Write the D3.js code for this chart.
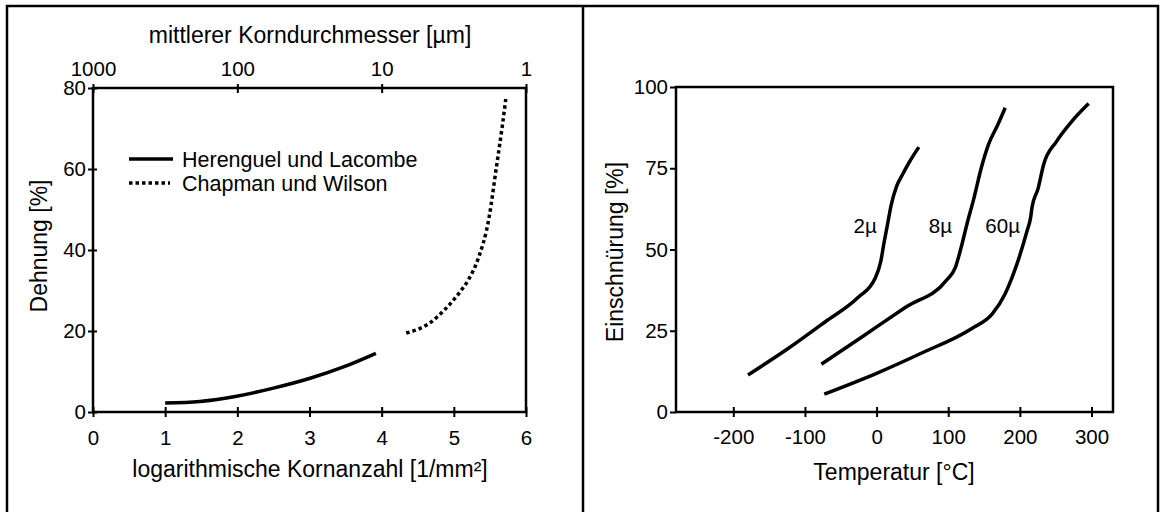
<!DOCTYPE html>
<html>
<head>
<meta charset="utf-8">
<script src="https://cdn.jsdelivr.net/npm/d3@7"></script>
<style>
  body { margin: 0; background: #fff; }
  svg text { font-family: "Liberation Sans", Arial, sans-serif; fill: #000; }
</style>
</head>
<body>
<div id="chart"></div>
<script>
// Left panel: Dehnung over logarithmische Kornanzahl
const leftXTicks = [0, 1, 2, 3, 4, 5, 6];
const leftYTicks = [0, 20, 40, 60, 80];
const topTicks = [1000, 100, 10, 1];
const herenguelX = [1.0, 1.48, 1.99, 2.5, 3.02, 3.48, 3.92];
const herenguelY = [2.2, 2.6, 3.9, 5.9, 8.4, 11.2, 14.5];
const chapmanX = [4.34, 4.66, 4.87, 5.07, 5.2, 5.33, 5.49, 5.59, 5.67, 5.72];
const chapmanY = [19.5, 21.9, 25.2, 29.3, 32.6, 37.5, 48.2, 60.5, 70.4, 77.3];
const legendLabels = ['Herenguel und Lacombe', 'Chapman und Wilson'];

// Right panel: Einschnürung over Temperatur
const rightXTicks = [-200, -100, 0, 100, 200, 300];
const rightYTicks = [0, 25, 50, 75, 100];
const grain2X = [-179.5, -123, -72, -25.6, -2.6, 6, 10, 14.4, 20.5, 28, 36, 46, 59];
const grain2Y = [11.4, 19.6, 27.7, 35.3, 40.9, 46.5, 51.6, 56.7, 63.8, 69.5, 73, 77, 81.5];
const grain8X = [-77, -20.5, 41, 97.4, 110, 118, 126, 136, 146, 156, 169, 179.5];
const grain8Y = [14.7, 23.1, 32.3, 40.5, 44.5, 50.6, 57.7, 65.9, 75, 82.2, 88.3, 93.6];
const grain60X = [-73, 0, 61.5, 133, 161.5, 179.5, 197.4, 210, 215, 217, 225.6, 233, 251, 272, 296];
const grain60Y = [5.5, 11.9, 18, 25.7, 30.2, 36.4, 46.5, 55.7, 59.8, 63, 68.9, 76, 83.2, 89.3, 94.9];
const curveLabels = ['2µ', '8µ', '60µ'];
const curveLabelX = [-16, 89, 176];
const curveLabelY = [57.5, 57.5, 57.5];

const svg = d3.select('#chart')
  .append('svg')
  .attr('width', 1160)
  .attr('height', 512);

// Outer frame with divider
svg.append('rect')
  .attr('x', 7).attr('y', 6)
  .attr('width', 1151).attr('height', 530)
  .attr('fill', 'none')
  .attr('stroke', '#000')
  .attr('stroke-width', 2.5);
svg.append('line')
  .attr('x1', 583).attr('x2', 583)
  .attr('y1', 6).attr('y2', 512)
  .attr('stroke', '#000')
  .attr('stroke-width', 2.5);

const zip = (xs, ys) => xs.map((x, i) => [x, ys[i]]);
const plain = d => String(d); // hyphen minus like the original

function styleAxis(g, opts) {
  g.select('.domain').remove();
  g.selectAll('.tick line')
    .attr('stroke', '#000')
    .attr('stroke-width', 2);
  g.selectAll('.tick text')
    .style('font-size', '20.5px');
  if (opts) opts(g);
}

// ---------- Left panel ----------
const xL = d3.scaleLinear().domain([0, 6]).range([93, 526]);
const yL = d3.scaleLinear().domain([0, 80]).range([412, 88]);
const xTop = d3.scaleLog().domain([1000, 1]).range([93, 526]);

svg.append('g')
  .attr('transform', 'translate(0,412)')
  .call(d3.axisBottom(xL).tickValues(leftXTicks).tickFormat(plain))
  .call(styleAxis, g => {
    g.selectAll('.tick line').attr('y1', -5).attr('y2', 5);
    g.selectAll('.tick text').attr('y', 33).attr('dy', 0);
  });

svg.append('g')
  .attr('transform', 'translate(93,0)')
  .call(d3.axisLeft(yL).tickValues(leftYTicks).tickFormat(plain))
  .call(styleAxis, g => {
    g.selectAll('.tick line').attr('x1', -5).attr('x2', 4);
    g.selectAll('.tick text').attr('x', -7);
  });

svg.append('g')
  .attr('transform', 'translate(0,88)')
  .call(d3.axisTop(xTop).tickValues(topTicks).tickFormat(plain))
  .call(styleAxis, g => {
    g.selectAll('.tick line').attr('y1', -4).attr('y2', 5);
    g.selectAll('.tick text').attr('y', -12).attr('dy', 0);
  });

svg.append('rect')
  .attr('x', xL(0)).attr('y', yL(80))
  .attr('width', xL(6) - xL(0)).attr('height', yL(0) - yL(80))
  .attr('fill', 'none')
  .attr('stroke', '#000')
  .attr('stroke-width', 2.5);

const lineL = d3.line()
  .x(d => xL(d[0]))
  .y(d => yL(d[1]))
  .curve(d3.curveMonotoneX);

svg.append('path')
  .attr('d', lineL(zip(herenguelX, herenguelY)))
  .attr('fill', 'none')
  .attr('stroke', '#000')
  .attr('stroke-width', 3.5);

svg.append('path')
  .attr('d', lineL(zip(chapmanX, chapmanY)))
  .attr('fill', 'none')
  .attr('stroke', '#000')
  .attr('stroke-width', 3.5)
  .attr('stroke-dasharray', '3.5,3');

// Legend
const legend = svg.append('g').attr('transform', 'translate(129,159)');
legendLabels.forEach((label, i) => {
  legend.append('line')
    .attr('x1', 0).attr('x2', i === 0 ? 44 : 41)
    .attr('y1', i * 24).attr('y2', i * 24)
    .attr('stroke', '#000')
    .attr('stroke-width', 3.5)
    .attr('stroke-dasharray', i === 0 ? null : '3.5,3');
  legend.append('text')
    .attr('x', 53)
    .attr('y', i * 24)
    .attr('dy', '0.36em')
    .style('font-size', '21.5px')
    .text(label);
});

// Axis titles
svg.append('text')
  .attr('x', 310).attr('y', 43)
  .attr('text-anchor', 'middle')
  .style('font-size', '23px')
  .text('mittlerer Korndurchmesser [µm]');

svg.append('text')
  .attr('x', 310).attr('y', 477)
  .attr('text-anchor', 'middle')
  .style('font-size', '23px')
  .text('logarithmische Kornanzahl [1/mm²]');

svg.append('text')
  .attr('transform', 'translate(39,246) rotate(-90)')
  .attr('text-anchor', 'middle')
  .attr('dy', '0.35em')
  .style('font-size', '23px')
  .text('Dehnung [%]');

// ---------- Right panel ----------
const xR = d3.scaleLinear().domain([-280, 330]).range([676, 1113]);
const yR = d3.scaleLinear().domain([0, 100]).range([412, 87]);

svg.append('g')
  .attr('transform', 'translate(0,412)')
  .call(d3.axisBottom(xR).tickValues(rightXTicks).tickFormat(plain))
  .call(styleAxis, g => {
    g.selectAll('.tick line').attr('y1', -5).attr('y2', 5);
    g.selectAll('.tick text').attr('y', 32).attr('dy', 0);
  });

svg.append('g')
  .attr('transform', 'translate(676,0)')
  .call(d3.axisLeft(yR).tickValues(rightYTicks).tickFormat(plain))
  .call(styleAxis, g => {
    g.selectAll('.tick line').attr('x1', -6).attr('x2', 0);
    g.selectAll('.tick text').attr('x', -8);
  });

svg.append('rect')
  .attr('x', xR(-280)).attr('y', yR(100))
  .attr('width', xR(330) - xR(-280)).attr('height', yR(0) - yR(100))
  .attr('fill', 'none')
  .attr('stroke', '#000')
  .attr('stroke-width', 2.5);

const lineR = d3.line()
  .x(d => xR(d[0]))
  .y(d => yR(d[1]))
  .curve(d3.curveMonotoneX);

[[grain2X, grain2Y], [grain8X, grain8Y], [grain60X, grain60Y]].forEach(([xs, ys]) => {
  svg.append('path')
    .attr('d', lineR(zip(xs, ys)))
    .attr('fill', 'none')
    .attr('stroke', '#000')
    .attr('stroke-width', 3.5);
});

curveLabels.forEach((label, i) => {
  svg.append('text')
    .attr('x', xR(curveLabelX[i]))
    .attr('y', yR(curveLabelY[i]))
    .attr('text-anchor', 'middle')
    .attr('dy', '0.36em')
    .style('font-size', '20.5px')
    .text(label);
});

svg.append('text')
  .attr('x', 894).attr('y', 480)
  .attr('text-anchor', 'middle')
  .style('font-size', '23px')
  .text('Temperatur [°C]');

svg.append('text')
  .attr('transform', 'translate(615,252) rotate(-90)')
  .attr('text-anchor', 'middle')
  .attr('dy', '0.35em')
  .style('font-size', '23px')
  .text('Einschnürung [%]');
</script>
</body>
</html>
